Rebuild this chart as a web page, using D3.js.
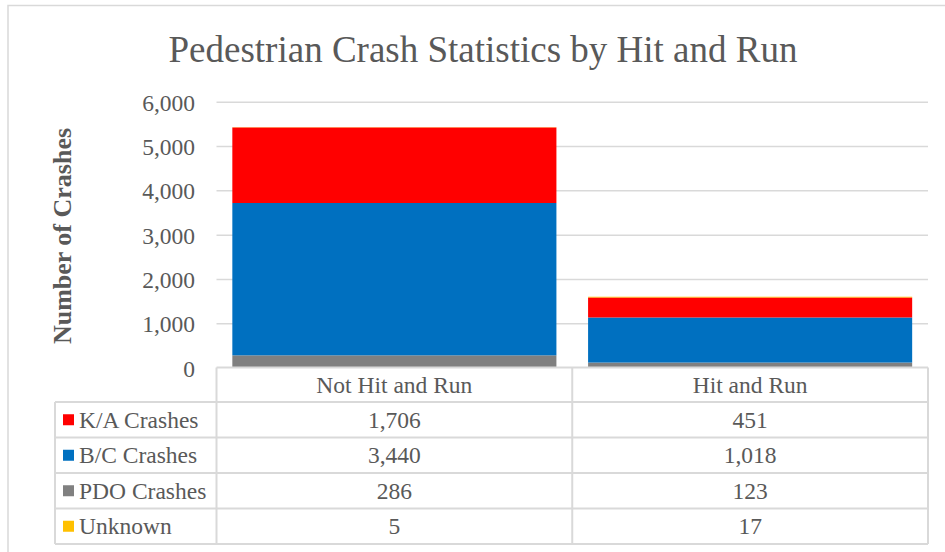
<!DOCTYPE html>
<html><head><meta charset="utf-8">
<script src="https://cdn.jsdelivr.net/npm/d3@7/dist/d3.min.js"></script>
<style>body{margin:0;background:#fff}svg{display:block}</style>
</head><body><svg id="c" width="945" height="552"></svg>
<script>
const categories = ["Not Hit and Run", "Hit and Run"];
const seriesNames = ["K/A Crashes", "B/C Crashes", "PDO Crashes", "Unknown"];
const kaValues = [1706, 451];
const bcValues = [3440, 1018];
const pdoValues = [286, 123];
const unknownValues = [5, 17];
const seriesColors = ["#FF0000", "#0070C0", "#808080", "#FFC000"];
const yTicks = [0, 1000, 2000, 3000, 4000, 5000, 6000];
const title = "Pedestrian Crash Statistics by Hit and Run";
const yTitle = "Number of Crashes";

const FONT = "'Liberation Serif', 'Times New Roman', Tinos, 'Nimbus Roman', 'DejaVu Serif', serif";
const svg = d3.select("#c");
const fmt = d3.format(",");
const grid = "#d9d9d9";
const txt = (sel) => sel.attr("font-family", FONT).attr("fill", "#595959");

// outer frame
svg.append("rect").attr("x", 8).attr("y", 5.5).attr("width", 960).attr("height", 600)
  .attr("fill", "none").attr("stroke", grid).attr("stroke-width", 1.5);

const plotL = 216.5, plotR = 928, plotT = 102.3, plotB = 368;
const y = d3.scaleLinear().domain([0, 6000]).range([plotB, plotT]);
const x = d3.scaleBand().domain(categories).range([plotL, plotR]).paddingInner(0.089).paddingOuter(0.0445);
const xc = d3.scaleBand().domain(categories).range([plotL, plotR]);

svg.append("text").attr("x", 483).attr("y", 61.5).attr("text-anchor", "middle")
  .attr("font-size", 37).call(txt).text(title);

// gridlines
svg.append("g").selectAll("line").data(yTicks.filter(d => d > 0)).join("line")
  .attr("x1", plotL).attr("x2", plotR).attr("y1", d => y(d)).attr("y2", d => y(d))
  .attr("stroke", grid).attr("stroke-width", 1.5);

// y axis labels
const yAxis = d3.axisLeft(y).tickValues(yTicks).tickFormat(fmt).tickSize(0).tickPadding(0);
const ga = svg.append("g").attr("transform", `translate(195,0)`).call(yAxis);
ga.select(".domain").remove();
ga.attr("font-family", FONT).attr("font-size", 23.5);
ga.selectAll("text").attr("fill", "#595959").attr("dy", "0.34em");

svg.append("text").attr("transform", `translate(71,236) rotate(-90)`).attr("text-anchor", "middle")
  .attr("font-size", 26).attr("font-weight", "bold").call(txt).text(yTitle);

// stacked bars
const table = categories.map((c, i) => ({cat: c, ka: kaValues[i], bc: bcValues[i], pdo: pdoValues[i], unk: unknownValues[i]}));
const keys = ["pdo", "bc", "ka", "unk"];
const keyColor = {ka: seriesColors[0], bc: seriesColors[1], pdo: seriesColors[2], unk: seriesColors[3]};
const stack = d3.stack().keys(keys)(table);
svg.append("g").selectAll("g").data(stack).join("g").attr("fill", d => keyColor[d.key])
  .selectAll("rect").data(d => d).join("rect")
  .attr("x", d => x(d.data.cat)).attr("width", x.bandwidth())
  .attr("y", d => y(d[1])).attr("height", d => y(d[0]) - y(d[1]));

// data table
const rowTops = [402, 437.5, 473, 508.5, 544];
const headerTop = 367.5, labelL = 55;
const tg = svg.append("g").attr("stroke", grid).attr("stroke-width", 2);
tg.append("line").attr("x1", plotL).attr("x2", plotR).attr("y1", headerTop).attr("y2", headerTop);
rowTops.forEach(r => tg.append("line").attr("x1", labelL).attr("x2", plotR).attr("y1", r).attr("y2", r));
tg.append("line").attr("x1", labelL).attr("x2", labelL).attr("y1", rowTops[0]).attr("y2", rowTops[4]);
[plotL, xc(categories[1]), plotR].forEach(v => tg.append("line").attr("x1", v).attr("x2", v).attr("y1", headerTop).attr("y2", rowTops[4]));

categories.forEach(c => {
  svg.append("text").attr("x", xc(c) + xc.bandwidth() / 2).attr("y", (headerTop + rowTops[0]) / 2)
    .attr("dy", "0.34em").attr("text-anchor", "middle").attr("font-size", 23.5).call(txt).text(c);
});
const seriesVals = [kaValues, bcValues, pdoValues, unknownValues];
seriesNames.forEach((s, i) => {
  const cy = (rowTops[i] + rowTops[i + 1]) / 2;
  svg.append("rect").attr("x", 63).attr("y", cy - 5.5).attr("width", 11).attr("height", 11).attr("fill", seriesColors[i]);
  svg.append("text").attr("x", 79).attr("y", cy).attr("dy", "0.34em").attr("font-size", 23.5).call(txt).text(s);
  categories.forEach((c, j) => {
    svg.append("text").attr("x", xc(c) + xc.bandwidth() / 2).attr("y", cy).attr("dy", "0.34em")
      .attr("text-anchor", "middle").attr("font-size", 23.5).call(txt).text(fmt(seriesVals[i][j]));
  });
});
</script></body></html>
